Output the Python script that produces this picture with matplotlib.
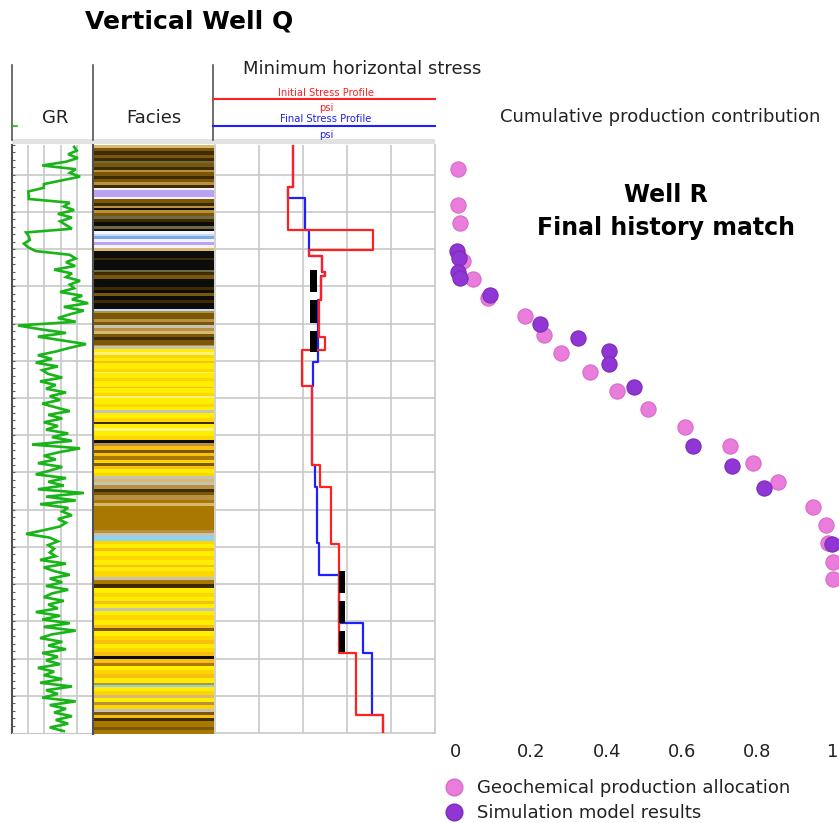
import numpy as np
import matplotlib
matplotlib.use('Agg')
import matplotlib.pyplot as plt
from matplotlib.lines import Line2D
from matplotlib.patches import Rectangle
from matplotlib.ticker import MultipleLocator

plt.rcParams['font.family'] = ['DejaVu Sans']

W, H = 839, 823

# ---------------- data ----------------
depth_top, depth_base = 5010, 5800
grid_depths = list(range(5050, 5800, 50))

# GR log (API), sampled every 5 ft from depth_top
gr_step = 5
gr_api = [115, 120, 104, 122, 100, 56, 118, 107, 126, 93,
          59, 59, 30, 31, 31, 107, 96, 115, 85, 111,
          89, 100, 111, 26, 31, 33, 22, 30, 44, 107,
          118, 100, 117, 78, 111, 100, 126, 107, 115, 89,
          130, 111, 141, 96, 133, 107, 85, 118, 11, 52,
          100, 48, 93, 137, 107, 81, 48, 74, 44, 85,
          56, 67, 93, 52, 81, 63, 100, 70, 89, 56,
          81, 107, 67, 93, 59, 85, 63, 104, 74, 111,
          37, 126, 89, 59, 81, 48, 93, 70, 44, 100,
          67, 96, 48, 133, 63, 118, 52, 104, 93, 111,
          85, 100, 89, 59, 26, 70, 85, 67, 78, 70,
          81, 52, 100, 59, 78, 107, 70, 93, 63, 104,
          74, 59, 96, 67, 85, 44, 89, 56, 107, 59,
          118, 74, 52, 93, 67, 100, 56, 85, 63, 89,
          48, 78, 59, 93, 52, 111, 63, 85, 56, 118,
          70, 100, 78, 111, 81, 104, 70, 96]

# Facies bands: top depth and facies colour class
facies_top = [5010, 5014, 5018, 5024, 5027, 5031, 5034, 5040, 5044, 5046,
              5052, 5056, 5060, 5063, 5068, 5070, 5080, 5083, 5088, 5092,
              5095, 5097, 5101, 5105, 5109, 5113, 5119, 5122, 5126, 5130,
              5132, 5136, 5140, 5144, 5148, 5152, 5162, 5164, 5178, 5181,
              5185, 5190, 5200, 5204, 5208, 5212, 5218, 5222, 5230, 5232,
              5236, 5243, 5248, 5251, 5255, 5260, 5263, 5267, 5272, 5278,
              5280, 5283, 5288, 5291, 5296, 5300, 5303, 5310, 5314, 5316,
              5323, 5327, 5334, 5336, 5343, 5347, 5350, 5357, 5361, 5366,
              5369, 5376, 5381, 5384, 5390, 5394, 5400, 5406, 5410, 5414,
              5419, 5423, 5427, 5432, 5436, 5440, 5444, 5450, 5454, 5458,
              5462, 5466, 5471, 5476, 5480, 5486, 5490, 5494, 5526, 5530,
              5534, 5541, 5545, 5551, 5554, 5561, 5566, 5573, 5576, 5582,
              5589, 5593, 5599, 5604, 5611, 5616, 5622, 5625, 5631, 5635,
              5641, 5647, 5654, 5658, 5662, 5668, 5674, 5679, 5685, 5690,
              5695, 5700, 5705, 5709, 5714, 5720, 5725, 5731, 5734, 5737,
              5742, 5748, 5752, 5757, 5761, 5767, 5771, 5775, 5779, 5783,
              5790, 5795]
facies_class = ['beige', 'brown', 'dkbrown', 'brown', 'dkbrown', 'olive', 'brown', 'dkbrown', 'tan', 'brown',
                'dkbrown', 'brown', 'tan', 'dkbrown', 'white', 'lav', 'white', 'brown', 'dkbrown', 'tan',
                'black', 'tan', 'brown', 'olive', 'dkbrown', 'black', 'olive', 'black', 'white', 'ltblue',
                'blue', 'white', 'lav', 'white', 'beige', 'black', 'dkbrown', 'black', 'olive', 'dkbrown',
                'brown', 'black', 'dkbrown', 'black', 'brown', 'black', 'dkbrown', 'black', 'ltblue', 'tan',
                'brown', 'tan', 'brown', 'gray', 'tan', 'beige', 'brown', 'dkbrown', 'brown', 'tan',
                'gray', 'yellow', 'lyellow', 'gold', 'yellow', 'orange', 'yellow', 'gold', 'lyellow', 'yellow',
                'gold', 'yellow', 'orange', 'yellow', 'gold', 'lyellow', 'yellow', 'gold', 'yellow', 'gray',
                'yellow', 'gold', 'dkbrown', 'yellow', 'lyellow', 'yellow', 'gold', 'black', 'tan', 'orange',
                'brown', 'orange', 'ochre', 'gold', 'brown', 'orange', 'yellow', 'gold', 'gray', 'beige',
                'gray', 'tan', 'dkbrown', 'brown', 'tan', 'ochre', 'beige', 'ochre', 'tan', 'gray',
                'sky', 'gold', 'yellow', 'orange', 'yellow', 'gold', 'yellow', 'orange', 'yellow', 'gold',
                'gray', 'ochre', 'dkbrown', 'yellow', 'gold', 'yellow', 'orange', 'yellow', 'gray', 'yellow',
                'gold', 'yellow', 'orange', 'brown', 'yellow', 'gold', 'orange', 'yellow', 'gold', 'orange',
                'black', 'orange', 'ochre', 'yellow', 'gold', 'orange', 'yellow', 'tan', 'sky', 'yellow',
                'gold', 'beige', 'yellow', 'tan', 'gold', 'gray', 'brown', 'orange', 'dkbrown', 'ochre',
                'brown', 'ochre']
facies_palette = {
    'beige': '#d6ba74', 'brown': '#7a5808', 'dkbrown': '#3e2c00', 'tan': '#b89040',
    'olive': '#6e6a48', 'white': '#f4f4fa', 'lav': '#b9a3f2', 'ltblue': '#c4dcf6',
    'blue': '#7ea6ec', 'black': '#0c0c0c', 'gray': '#c6c2b4', 'yellow': '#ffee00',
    'lyellow': '#fff27a', 'gold': '#ffd500', 'orange': '#f8bf10', 'ochre': '#a87800',
    'sky': '#8ed4ec'}

# Minimum horizontal stress profiles (psi), constant between depth bounds
initial_bounds = [5010, 5066, 5124, 5151, 5159, 5181, 5186, 5218, 5268, 5286,
                  5334, 5440, 5470, 5546, 5693, 5776, 5800]
initial_psi = [5773, 5659, 7591, 6136, 6432, 6500, 6409, 6364, 6500, 5977,
               6205, 6386, 6636, 6818, 7205, 7818]
final_bounds = [5010, 5066, 5081, 5124, 5159, 5181, 5186, 5218, 5302, 5334,
                5440, 5470, 5545, 5588, 5652, 5693, 5776, 5800]
final_psi = [5773, 5659, 6045, 6136, 6432, 6500, 6409, 6341, 6227, 6205,
             6273, 6318, 6364, 6818, 7364, 7568, 7818]

# Perforation / stage markers
perf_top = [5178, 5218, 5260, 5583, 5623, 5663]
perf_base = [5208, 5249, 5288, 5612, 5652, 5691]
perf_psi_left = [6159, 6159, 6159, 6818, 6818, 6818]
perf_psi_right = [6318, 6318, 6318, 6955, 6955, 6955]

# Cumulative production contribution vs depth
geo_contrib = [0.005, 0.005, 0.011, 0.019, 0.045, 0.085, 0.183, 0.233, 0.279, 0.355,
               0.427, 0.509, 0.607, 0.727, 0.788, 0.854, 0.947, 0.981, 0.987, 1.0, 1.0]
geo_depth = [5042, 5091, 5115, 5166, 5190, 5216, 5240, 5265, 5290, 5315,
             5341, 5365, 5389, 5415, 5437, 5463, 5497, 5521, 5545, 5570, 5593]
sim_contrib = [0.003, 0.008, 0.005, 0.011, 0.090, 0.223, 0.324, 0.406, 0.406, 0.472,
               0.629, 0.732, 0.817, 0.997]
sim_depth = [5152, 5162, 5181, 5189, 5212, 5251, 5269, 5287, 5304, 5335,
             5415, 5441, 5471, 5546]
contrib_ticks = [0, 0.2, 0.4, 0.6, 0.8, 1.0]
contrib_labels = ['0', '0.2', '0.4', '0.6', '0.8', '1']

# ---------------- figure ----------------
fig = plt.figure(figsize=(W / 100, H / 100), dpi=100)


def box(x0, y0, x1, y1):
    return [x0 / W, 1 - y1 / H, (x1 - x0) / W, (y1 - y0) / H]


def ft(px, py, s, **kw):
    fig.text(px / W, 1 - py / H, s, **kw)


def fline(x0, y0, x1, y1, **kw):
    fig.add_artist(Line2D([x0 / W, x1 / W], [1 - y0 / H, 1 - y1 / H], **kw))


grid_col = '#c8c8c8'

# GR track
ax_gr = fig.add_axes(box(12, 145, 93, 733))
ax_gr.set_xlim(0, 150)
ax_gr.set_ylim(depth_base, depth_top)
ax_gr.set_xticks([30, 60, 90, 120])
ax_gr.set_yticks(grid_depths)
ax_gr.grid(True, color=grid_col, lw=1.2)
ax_gr.set_axisbelow(True)
ax_gr.yaxis.set_minor_locator(MultipleLocator(10))
ax_gr.tick_params(axis='x', length=0, labelbottom=False)
ax_gr.tick_params(axis='y', which='both', direction='in', length=2.5, width=0.8,
                  color='#606060', labelleft=False)
for s in ['top', 'right']:
    ax_gr.spines[s].set_visible(False)
ax_gr.spines['left'].set_color('#505050')
ax_gr.spines['left'].set_linewidth(1.5)
ax_gr.spines['bottom'].set_color(grid_col)
gr_depth = np.arange(len(gr_api)) * gr_step + depth_top + gr_step / 2
ax_gr.plot(gr_api, gr_depth, color='#18b418', lw=1.9, solid_joinstyle='miter')

# Facies track
ax_fa = fig.add_axes(box(93, 145, 214, 734))
ax_fa.set_xlim(0, 1)
ax_fa.set_ylim(depth_base, depth_top)
fa_bounds = facies_top + [depth_base]
ax_fa.barh(facies_top, [1] * len(facies_top), left=0, height=np.diff(fa_bounds), align='edge',
           color=[facies_palette[c] for c in facies_class], linewidth=0)
ax_fa.set_xticks([])
ax_fa.set_yticks([])
for s in ['top', 'right', 'bottom']:
    ax_fa.spines[s].set_visible(False)
ax_fa.spines['left'].set_color('#505050')
ax_fa.spines['left'].set_linewidth(1.5)

# Stress track
ax_st = fig.add_axes(box(215, 145, 435, 733))
ax_st.set_xlim(4000, 9000)
ax_st.set_ylim(depth_base, depth_top)
ax_st.set_xticks([5000, 6000, 7000, 8000])
ax_st.set_yticks(grid_depths)
ax_st.grid(True, color=grid_col, lw=1.2)
ax_st.set_axisbelow(True)
ax_st.tick_params(length=0, labelbottom=False, labelleft=False)
ax_st.spines['top'].set_visible(False)
for s in ['left', 'right', 'bottom']:
    ax_st.spines[s].set_color(grid_col)
    ax_st.spines[s].set_linewidth(1.2)
ax_st.plot(np.repeat(final_psi, 2), np.repeat(final_bounds, 2)[1:-1], color='#2020ff', lw=1.6, zorder=3)
ax_st.plot(np.repeat(initial_psi, 2), np.repeat(initial_bounds, 2)[1:-1], color='#ff2020', lw=1.6, zorder=4)
ax_st.barh(perf_top, np.array(perf_psi_right) - np.array(perf_psi_left), left=perf_psi_left,
           height=np.array(perf_base) - np.array(perf_top), align='edge', color='black', zorder=5)

# Scatter panel
ax_sc = fig.add_axes(box(445, 145, 839, 733))
ax_sc.set_xlim(-0.029, 1.016)
ax_sc.set_ylim(depth_base, depth_top)
for s in ax_sc.spines.values():
    s.set_visible(False)
ax_sc.set_yticks([])
ax_sc.set_xticks(contrib_ticks)
ax_sc.set_xticklabels(contrib_labels, fontsize=13)
ax_sc.tick_params(axis='x', length=0, pad=7, colors='#222222')
pink, purple = '#ea7ddc', '#8f36d4'
ax_sc.scatter(geo_contrib, geo_depth, s=120, color=pink, edgecolor='#d56cc9', lw=0.8,
              clip_on=False, zorder=3)
ax_sc.scatter(sim_contrib, sim_depth, s=120, color=purple, edgecolor='#7b2cb8', lw=0.8,
              clip_on=False, zorder=4)

handles = [Line2D([], [], ls='none', marker='o', ms=12, mfc=pink, mec='#d56cc9'),
           Line2D([], [], ls='none', marker='o', ms=12, mfc=purple, mec='#7b2cb8')]
fig.legend(handles, ['Geochemical production allocation', 'Simulation model results'],
           loc='upper left', bbox_to_anchor=(445 / W, 1 - 779 / H), frameon=False,
           fontsize=13, handlelength=1.0, handletextpad=0.75, labelspacing=0.4,
           borderpad=0, borderaxespad=0, labelcolor='#222222')

# ---------------- header ----------------
fig.add_artist(Rectangle((12 / W, 1 - 144 / H), (435 - 12) / W, 5 / H,
                         transform=fig.transFigure, color='#e2e2e2', lw=0))
for xp in [12, 93, 213]:
    fline(xp, 65, xp, 140, color='#555555', lw=1.2)
fline(12, 126, 17, 126, color='#18b418', lw=1.2)
fline(213, 99, 435, 99, color='#ff2020', lw=1.5)
fline(213, 126, 435, 126, color='#2020ff', lw=1.5)
ft(326, 93, 'Initial Stress Profile', fontsize=7.2, color='#ff2020', ha='center', va='center')
ft(326, 108, 'psi', fontsize=7.2, color='#ff2020', ha='center', va='center')
ft(326, 119, 'Final Stress Profile', fontsize=7.2, color='#2020ff', ha='center', va='center')
ft(326, 135, 'psi', fontsize=7.2, color='#2020ff', ha='center', va='center')

ft(85, 22, 'Vertical Well Q', fontsize=18, weight='bold', ha='left', va='center')
ft(362, 69, 'Minimum horizontal stress', fontsize=13, ha='center', va='center', color='#222222')
ft(55, 118, 'GR', fontsize=13, ha='center', va='center', color='#222222')
ft(154, 118, 'Facies', fontsize=13, ha='center', va='center', color='#222222')
ft(660, 117, 'Cumulative production contribution', fontsize=13, ha='center', va='center',
   color='#222222')
ft(666, 195, 'Well R', fontsize=17, weight='bold', ha='center', va='center')
ft(666, 228, 'Final history match', fontsize=17, weight='bold', ha='center', va='center')

fig.savefig('out.png', dpi=100)
